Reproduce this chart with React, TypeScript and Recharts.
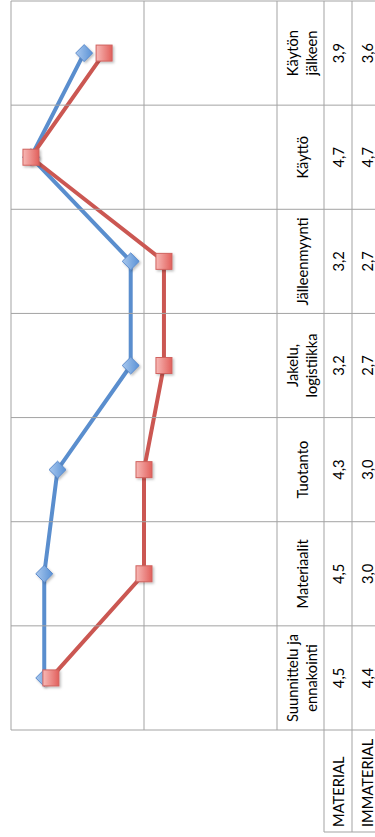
import React from 'react';
import { LineChart, Line, XAxis, YAxis, CartesianGrid } from 'recharts';

// ---- data ----
const categories = [
  'Suunnittelu ja ennakointi',
  'Materiaalit',
  'Tuotanto',
  'Jakelu, logistiikka',
  'Jälleenmyynti',
  'Käyttö',
  'Käytön jälkeen',
];
const categoryLabelLines = [
  ['Suunnittelu ja', 'ennakointi'],
  ['Materiaalit'],
  ['Tuotanto'],
  ['Jakelu,', 'logistiikka'],
  ['Jälleenmyynti'],
  ['Käyttö'],
  ['Käytön', 'jälkeen'],
];
const material = [4.5, 4.5, 4.3, 3.2, 3.2, 4.7, 3.9];
const immaterial = [4.4, 3.0, 3.0, 2.7, 2.7, 4.7, 3.6];
const seriesNames = ['MATERIAL', 'IMMATERIAL'];
const valueTicks = [1, 3, 5];
const valueDomain = [1, 5];

const data = categories.map((name, i) => ({
  name,
  material: material[i],
  immaterial: immaterial[i],
}));

// ---- layout (chart drawn landscape, then rotated) ----
const W = 837;
const H = 385;
const PLOT_LEFT = 107;
const PLOT_RIGHT = 836;
const PLOT_TOP = 11;
const AXIS_Y = 277;
const ROW1 = 324;
const ROW2 = 352;
const ROW3 = 381;
const HEADER_LEFT = 5;
const COL = (PLOT_RIGHT - PLOT_LEFT) / categories.length;
const GRID = '#a3a3a3';
const FONT = 'Lato, "Open Sans", sans-serif';
const FS = 14.7;
const BLUE = '#5A8ECE';
const RED = '#CB5752';

const fmt = (v: number) => v.toFixed(1).replace('.', ',');

const TableTick = (props: any) => {
  const { x, index } = props;
  const i = index as number;
  const l = x - COL / 2;
  const r = x + COL / 2;
  const lines = categoryLabelLines[i] || [];
  const c1 = (AXIS_Y + ROW1) / 2 + 1;
  const lh = 18.5;
  const startY = c1 - ((lines.length - 1) * lh) / 2;
  return (
    <g>
      <line x1={r} x2={r} y1={PLOT_TOP} y2={ROW3} stroke={GRID} strokeWidth={1} />
      <line x1={l} x2={r} y1={ROW1} y2={ROW1} stroke={GRID} strokeWidth={1} />
      <line x1={l} x2={r} y1={ROW2} y2={ROW2} stroke={GRID} strokeWidth={1} />
      {i === 0 && (
        <g>
          <line x1={l} x2={l} y1={PLOT_TOP} y2={ROW3} stroke={GRID} strokeWidth={1} />
          <line x1={HEADER_LEFT} x2={l} y1={ROW1} y2={ROW1} stroke={GRID} strokeWidth={1} />
          <line x1={HEADER_LEFT} x2={l} y1={ROW2} y2={ROW2} stroke={GRID} strokeWidth={1} />
          <line x1={HEADER_LEFT} x2={HEADER_LEFT} y1={ROW1} y2={ROW3} stroke={GRID} strokeWidth={1} />
          <text x={HEADER_LEFT + 5} y={(ROW1 + ROW2) / 2} dominantBaseline="central" fontSize={FS} fontFamily={FONT} fill="#000">
            {seriesNames[0]}
          </text>
          <text x={HEADER_LEFT + 5} y={(ROW2 + ROW3) / 2} dominantBaseline="central" fontSize={FS} fontFamily={FONT} fill="#000">
            {seriesNames[1]}
          </text>
        </g>
      )}
      {lines.map((t, k) => (
        <text key={k} x={x} y={startY + k * lh} textAnchor="middle" dominantBaseline="central" fontSize={FS} fontFamily={FONT} fill="#000">
          {t}
        </text>
      ))}
      <text x={x} y={(ROW1 + ROW2) / 2} textAnchor="middle" dominantBaseline="central" fontSize={FS} fontFamily={FONT} fill="#000">
        {fmt(material[i])}
      </text>
      <text x={x} y={(ROW2 + ROW3) / 2} textAnchor="middle" dominantBaseline="central" fontSize={FS} fontFamily={FONT} fill="#000">
        {fmt(immaterial[i])}
      </text>
    </g>
  );
};

const Diamond = (props: any) => {
  const { cx, cy } = props;
  if (cx == null || cy == null) return null;
  const s = 8.5;
  return (
    <path
      d={`M${cx},${cy - s} L${cx + s},${cy} L${cx},${cy + s} L${cx - s},${cy} Z`}
      fill="url(#gBlue)"
      stroke="#5B8ACB"
      strokeWidth={1}
      filter="url(#shadow)"
    />
  );
};

const Square = (props: any) => {
  const { cx, cy } = props;
  if (cx == null || cy == null) return null;
  const s = 8;
  return (
    <rect
      x={cx - s}
      y={cy - s}
      width={2 * s}
      height={2 * s}
      fill="url(#gRed)"
      stroke="#D0625E"
      strokeWidth={1}
      filter="url(#shadow)"
    />
  );
};

export default function App() {
  return (
    <div style={{ position: 'absolute', left: 0, top: 0, width: 375, height: 837, overflow: 'hidden', background: '#fff' }}>
      <div
        style={{
          position: 'absolute',
          left: 0,
          top: 0,
          width: W,
          height: H,
          transformOrigin: '0 0',
          transform: `translateY(${W}px) rotate(-90deg)`,
        }}
      >
        <LineChart
          width={W}
          height={H}
          data={data}
          margin={{ top: PLOT_TOP, right: W - PLOT_RIGHT, left: PLOT_LEFT, bottom: 0 }}
        >
          <defs>
            <linearGradient id="gRed" x1="0" y1="0" x2="0" y2="1">
              <stop offset="0%" stopColor="#F7B9B6" />
              <stop offset="100%" stopColor="#E2605C" />
            </linearGradient>
            <linearGradient id="gBlue" x1="0" y1="0" x2="0" y2="1">
              <stop offset="0%" stopColor="#A9C8EE" />
              <stop offset="100%" stopColor="#5A92D6" />
            </linearGradient>
            <filter id="shadow" x="-50%" y="-50%" width="200%" height="200%">
              <feDropShadow dx={-1.5} dy={1.5} stdDeviation={1} floodColor="#000" floodOpacity={0.25} />
            </filter>
          </defs>
          <CartesianGrid vertical={false} stroke={GRID} strokeWidth={1} />
          <XAxis
            dataKey="name"
            height={H - AXIS_Y}
            interval={0}
            axisLine={false}
            tickLine={false}
            padding={{ left: COL / 2, right: COL / 2 }}
            tick={<TableTick />}
          />
          <YAxis hide type="number" domain={valueDomain} ticks={valueTicks} />
          <Line
            dataKey="material"
            name={seriesNames[0]}
            stroke={BLUE}
            strokeWidth={4}
            dot={<Diamond />}
            isAnimationActive={false}
          />
          <Line
            dataKey="immaterial"
            name={seriesNames[1]}
            stroke={RED}
            strokeWidth={4}
            dot={<Square />}
            isAnimationActive={false}
          />
        </LineChart>
      </div>
    </div>
  );
}
